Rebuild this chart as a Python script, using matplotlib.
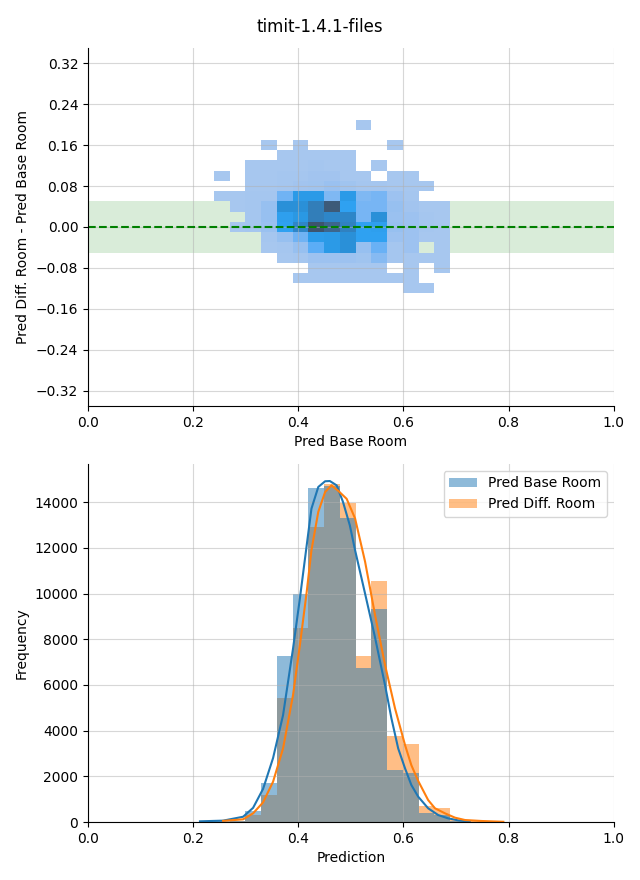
import numpy as np
import matplotlib
matplotlib.use("Agg")
import matplotlib.pyplot as plt
from matplotlib.colors import ListedColormap, to_rgb
from matplotlib.patches import Patch
from seaborn.external import husl

# Bordes de los bins
bordes_x = [0.2396, 0.2695, 0.2995, 0.3294, 0.3594, 0.3893, 0.4193, 0.4492,
            0.4792, 0.5091, 0.5391, 0.5690, 0.5990, 0.6289, 0.6589, 0.6888]
bordes_y = [-0.13, -0.11, -0.09, -0.07, -0.05, -0.03, -0.01, 0.01, 0.03,
            0.05, 0.07, 0.09, 0.11, 0.13, 0.15, 0.17, 0.19, 0.21]

# Conteos del histograma 2D, filas de arriba (0.20) hacia abajo (-0.12)
conteos_2d = [
    [0, 0, 0, 0, 0, 0, 0, 0, 0, 2, 0, 0, 0, 0, 0],
    [0, 0, 0, 0, 0, 0, 0, 0, 0, 0, 0, 0, 0, 0, 0],
    [0, 0, 0, 2, 0, 2, 0, 0, 0, 0, 0, 2, 0, 0, 0],
    [0, 0, 0, 0, 2, 2, 2, 2, 2, 0, 0, 0, 0, 0, 0],
    [0, 0, 2, 2, 2, 2, 3, 2, 2, 0, 2, 0, 0, 0, 0],
    [2, 0, 2, 2, 3, 3, 4, 4, 2, 2, 0, 2, 2, 0, 0],
    [0, 0, 2, 2, 3, 4, 5, 7, 5, 3, 3, 2, 2, 2, 0],
    [2, 2, 3, 3, 20, 42, 42, 16, 42, 16, 18, 6, 3, 0, 0],
    [0, 2, 3, 8, 50, 50, 65, 95, 36, 18, 18, 8, 4, 2, 2],
    [0, 0, 3, 8, 38, 44, 65, 58, 58, 18, 50, 7, 6, 3, 2],
    [0, 2, 3, 7, 36, 58, 100, 85, 62, 36, 38, 8, 6, 3, 2],
    [0, 0, 0, 3, 8, 20, 40, 42, 50, 36, 36, 6, 6, 2, 2],
    [0, 0, 0, 2, 3, 8, 25, 42, 50, 8, 22, 3, 6, 0, 2],
    [0, 0, 0, 0, 2, 3, 6, 6, 6, 5, 14, 3, 2, 2, 2],
    [0, 0, 0, 0, 0, 0, 2, 2, 2, 2, 2, 0, 2, 0, 2],
    [0, 0, 0, 0, 0, 2, 2, 2, 2, 2, 2, 2, 2, 0, 0],
    [0, 0, 0, 0, 0, 0, 0, 0, 0, 0, 0, 0, 2, 2, 0],
]

# Histogramas de la parte inferior
bordes_hist = [0.2096, 0.2396, 0.2695, 0.2995, 0.3294, 0.3594, 0.3893, 0.4193,
               0.4492, 0.4792, 0.5091, 0.5391, 0.5690, 0.5990, 0.6289, 0.6589,
               0.6888, 0.7188, 0.7487, 0.7787, 0.8086]
frec_base = [20, 40, 60, 490, 1710, 7260, 9990, 14610, 14720, 13310, 6750,
             9320, 2270, 2160, 380, 300, 40, 10, 0, 0]
frec_diff = [0, 10, 40, 300, 1180, 5440, 8490, 12920, 14800, 13970, 7260,
             10540, 3760, 3430, 700, 620, 90, 60, 40, 20]

# Curvas KDE (escaladas a conteos)
kde_base_x = [0.213, 0.257, 0.295, 0.314, 0.333, 0.352, 0.371, 0.390, 0.403,
              0.416, 0.425, 0.438, 0.451, 0.460, 0.473, 0.485, 0.498, 0.508,
              0.526, 0.545, 0.565, 0.577, 0.590, 0.603, 0.615, 0.628, 0.647,
              0.666, 0.685, 0.704, 0.726]
kde_base_y = [30, 60, 230, 620, 1450, 2800, 4680, 7600, 9785, 12120, 13720,
              14670, 14920, 14930, 14740, 14015, 12990, 11900, 10100, 8180,
              5990, 4550, 3220, 2350, 1620, 1110, 600, 305, 160, 73, 15]
kde_diff_x = [0.257, 0.295, 0.314, 0.333, 0.352, 0.371, 0.390, 0.403, 0.416,
              0.425, 0.438, 0.451, 0.463, 0.476, 0.492, 0.508, 0.527, 0.546,
              0.565, 0.584, 0.603, 0.615, 0.628, 0.647, 0.660, 0.679, 0.698,
              0.717, 0.749, 0.790]
kde_diff_y = [50, 117, 380, 860, 1765, 3220, 5560, 7740, 10080, 11900, 13580,
              14450, 14740, 14500, 14150, 13290, 11400, 9060, 6870, 4970, 3370,
              2490, 1800, 960, 600, 380, 190, 87, 44, 10]

ticks_y = [-0.32, -0.24, -0.16, -0.08, 0.0, 0.08, 0.16, 0.24, 0.32]


# Mapa de color secuencial a partir de un color (como seaborn)
def cmap_desde_color(color):
    r, g, b = to_rgb(color)
    h, s, _ = husl.rgb_to_husl(r, g, b)
    xx = np.linspace(-1, 1, int(1.15 * 256))[:256]
    ramp = np.zeros((256, 3))
    ramp[:, 0] = h
    ramp[:, 1] = s * np.cos(xx)
    ramp[:, 2] = np.linspace(35, 80, 256)
    colores = np.clip([husl.husl_to_rgb(*hsl) for hsl in ramp], 0, 1)
    return ListedColormap(colores[::-1])


fig, (ax1, ax2) = plt.subplots(2, 1, figsize=(6.4, 8.8), dpi=100)
fig.subplots_adjust(left=0.1375, right=0.959, top=0.9455, bottom=0.0659, hspace=0.162)
fig.suptitle('timit-1.4.1-files')

# Grafico superior: histograma 2D
ax1.axhspan(-0.05, 0.05, color='green', alpha=0.15, linewidth=0)
conteos = np.ma.masked_equal(np.array(conteos_2d)[::-1], 0)
ax1.pcolormesh(bordes_x, bordes_y, conteos, cmap=cmap_desde_color('#1f77b4'),
               vmin=0, vmax=conteos.max())
ax1.axhline(0, color='green', linestyle='--', linewidth=1.5)
ax1.set_xlim(0, 1)
ax1.set_ylim(-0.35, 0.35)
ax1.set_yticks(ticks_y)
ax1.set_xlabel('Pred Base Room')
ax1.set_ylabel('Pred Diff. Room - Pred Base Room')
ax1.grid(True, alpha=0.5)

# Grafico inferior: histogramas con KDE
anchos = np.diff(bordes_hist)
ax2.bar(bordes_hist[:-1], frec_diff, width=anchos, align='edge', color='#ff7f0e',
        alpha=0.5, linewidth=0)
ax2.bar(bordes_hist[:-1], frec_base, width=anchos, align='edge', color='#1f77b4',
        alpha=0.5, linewidth=0)
ax2.plot(kde_base_x, kde_base_y, color='#1f77b4', linewidth=1.5)
ax2.plot(kde_diff_x, kde_diff_y, color='#ff7f0e', linewidth=1.5)
ax2.set_xlim(0, 1)
ax2.set_xlabel('Prediction')
ax2.set_ylabel('Frequency')
ax2.grid(True, alpha=0.5)
handles = [Patch(color='#1f77b4', alpha=0.5, linewidth=0, label='Pred Base Room'),
           Patch(color='#ff7f0e', alpha=0.5, linewidth=0, label='Pred Diff. Room')]
ax2.legend(handles=handles, loc='upper right')

for ax in (ax1, ax2):
    ax.spines['top'].set_visible(False)
    ax.spines['right'].set_visible(False)

plt.savefig('out.png')
